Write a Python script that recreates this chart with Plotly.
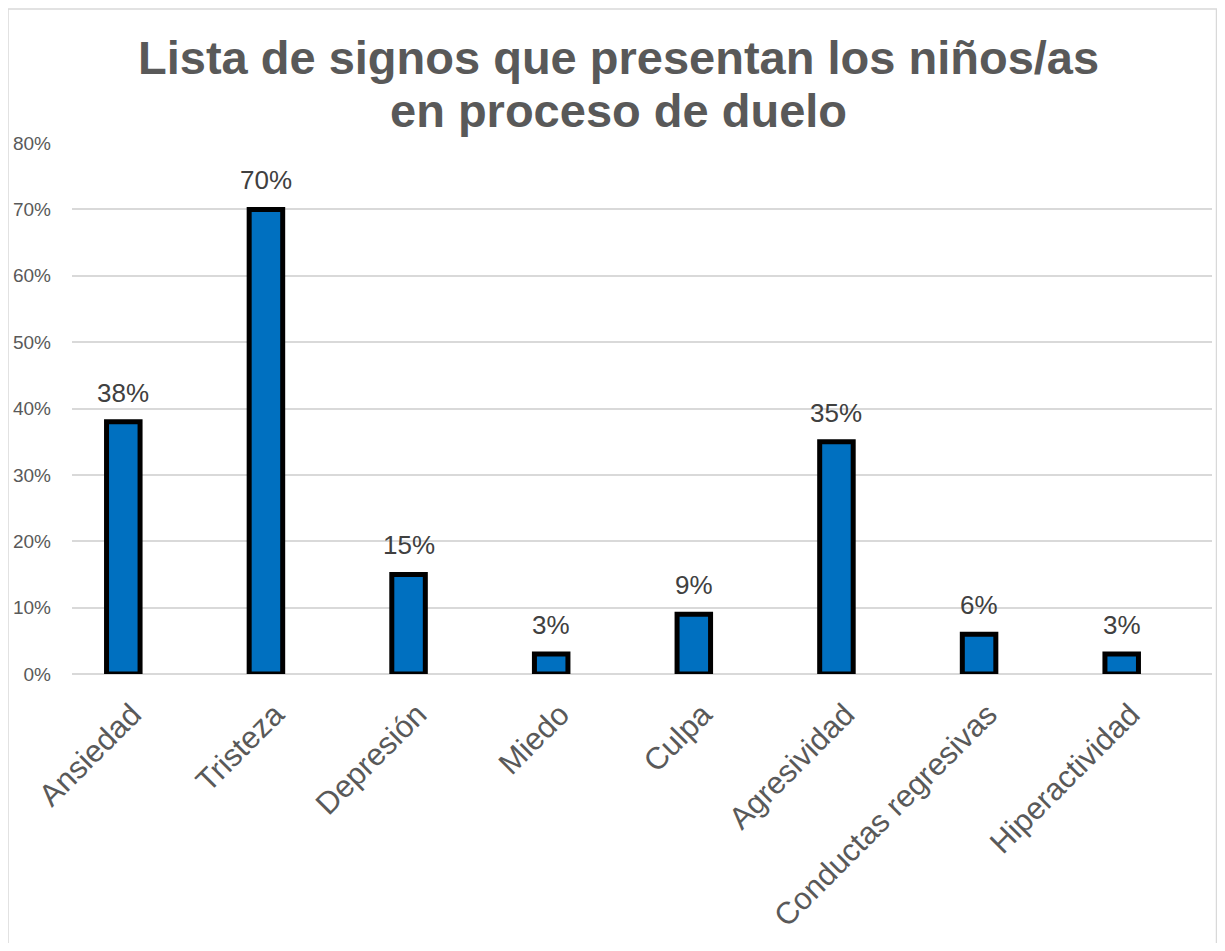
import plotly.graph_objects as go

categories = ["Ansiedad", "Tristeza", "Depresión", "Miedo", "Culpa",
              "Agresividad", "Conductas regresivas", "Hiperactividad"]
values = [38, 70, 15, 3, 9, 35, 6, 3]
y_ticks = [0, 10, 20, 30, 40, 50, 60, 70, 80]
title_lines = ["Lista de signos que presentan los niños/as", "en proceso de duelo"]

OFF = 8  # page body margin
W, H = 1225 - 2 * OFF, 951 - 2 * OFF
# target screen positions of the plot area
SL, SR, ST, SB = 72, 1212, 143, 674
L, T = SL - OFF, ST - OFF
R, B = W - (SR - OFF), H - (SB - OFF)
pw, ph = W - L - R, H - T - B

def px_x(x):
    return (x - OFF - L) / pw

def px_y(y):
    return (H - B - (y - OFF)) / ph

# category axis range so that first/last bar centres land where the reference has them
unit = (1121.7 - 123.3) / 7
x_lo = -(123.3 - SL) / unit
x_hi = 7 + (SR - 1121.7) / unit

fig = go.Figure()
fig.add_trace(go.Bar(
    x=categories, y=values, width=0.235,
    marker=dict(color="#0070C0", line=dict(color="#000000", width=5)),
    hoverinfo="skip",
))

annotations = []
for c, v in zip(categories, values):
    annotations.append(dict(
        x=c, y=v, xref="x", yref="y", text=f"{v}%", showarrow=False,
        yanchor="bottom", yshift=12,
        font=dict(family="Liberation Sans, Arial", size=26, color="#404040"),
    ))

title_y_px = [57, 110]
for line, ypx in zip(title_lines, title_y_px):
    annotations.append(dict(
        x=px_x(618), y=px_y(ypx), xref="paper", yref="paper", text=f"<b>{line}</b>",
        showarrow=False, xanchor="center", yanchor="middle",
        font=dict(family="Liberation Sans, Arial", size=47, color="#595959"),
    ))

fig.update_layout(
    width=W, height=H,
    margin=dict(l=L, r=R, t=T, b=B),
    paper_bgcolor="white", plot_bgcolor="white",
    showlegend=False,
    annotations=annotations,
    shapes=[dict(type="rect", xref="paper", yref="paper",
                 x0=px_x(8), x1=px_x(1216.5), y0=px_y(990), y1=px_y(9),
                 line=dict(color="#D9D9D9", width=1.5), layer="below")],
    xaxis=dict(
        range=[x_lo, x_hi], tickangle=-45, showgrid=False, showline=False,
        zeroline=False, ticks="", ticklabelstandoff=15, ticklabelshift=9,
        automargin=False,
        tickfont=dict(family="Liberation Sans, Arial", size=31, color="#595959"),
    ),
    yaxis=dict(
        range=[0, 80], tickvals=y_ticks, ticktext=[f"{t}%" for t in y_ticks],
        showgrid=True, gridcolor="#D9D9D9", gridwidth=1.5,
        zeroline=True, zerolinecolor="#D9D9D9", zerolinewidth=1.5,
        showline=False, ticks="", ticklabelstandoff=20, automargin=False,
        tickfont=dict(family="Liberation Sans, Arial", size=19, color="#595959"),
    ),
)

fig.write_html("out.html")
